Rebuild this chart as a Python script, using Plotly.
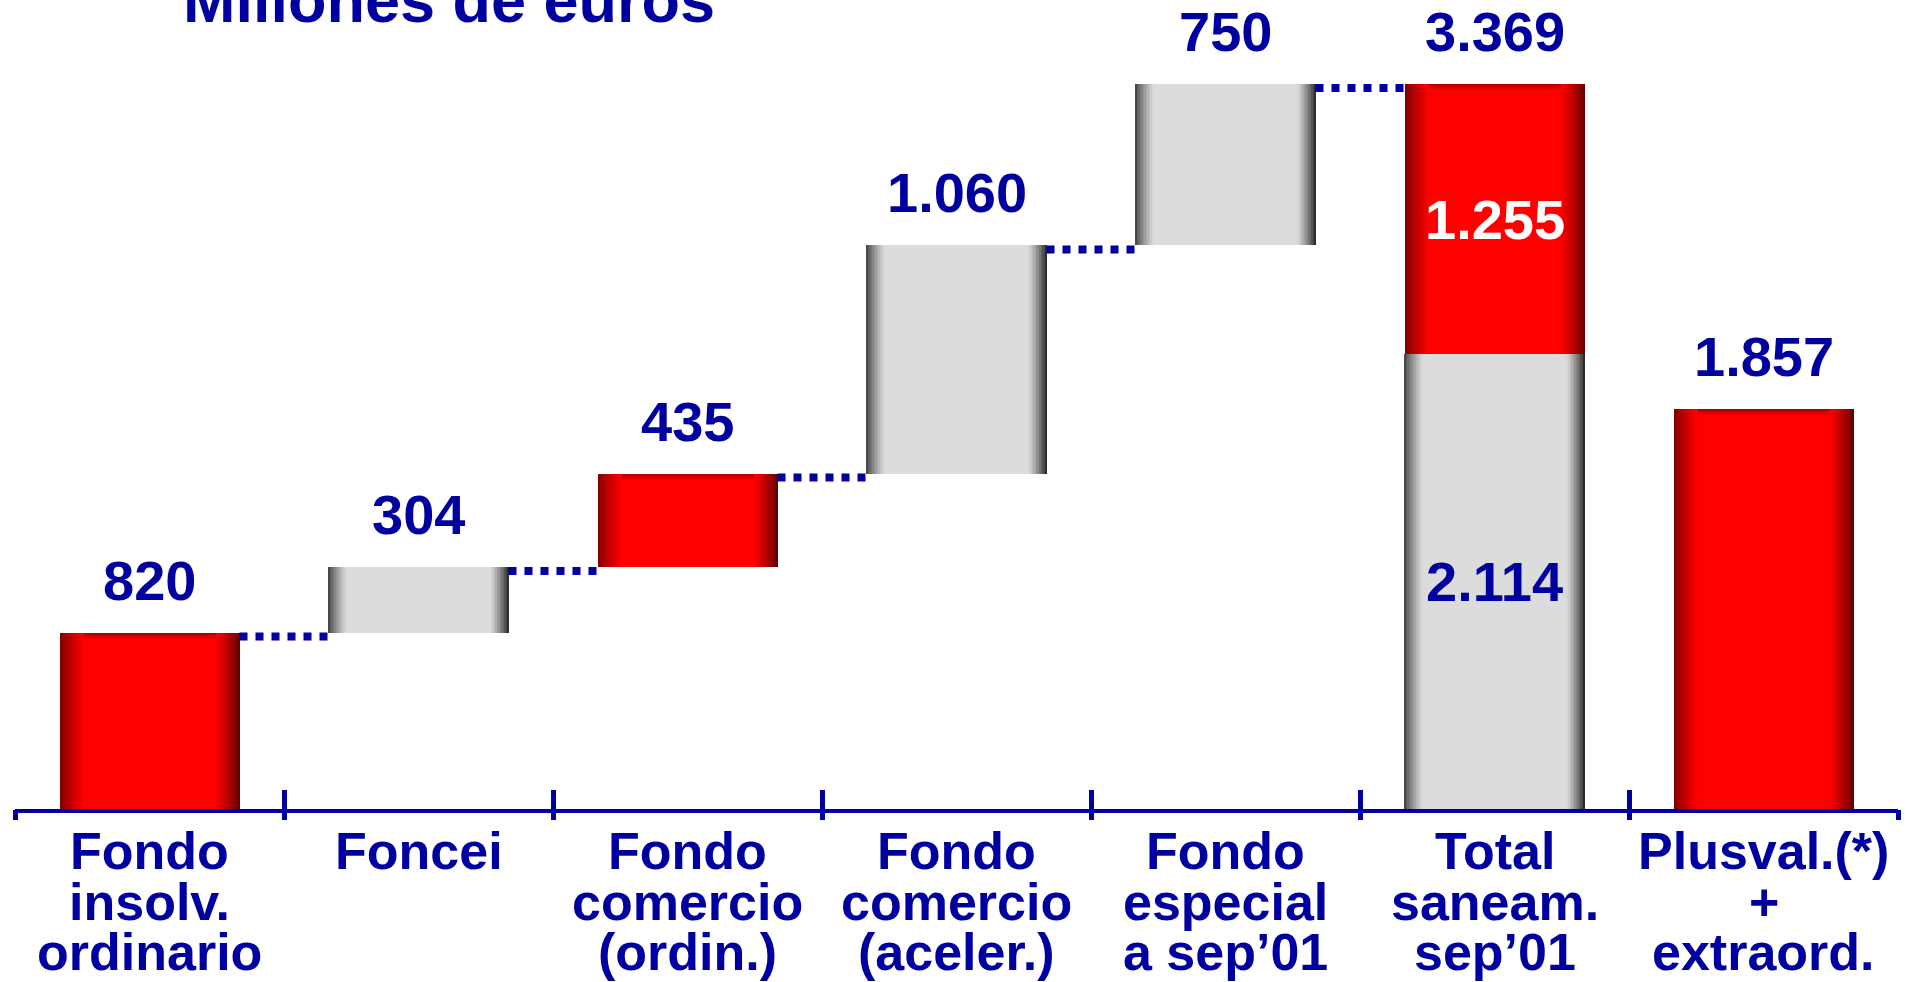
import plotly.graph_objects as go

# ---------------- data ----------------
category_lines = [
    ["Fondo", "insolv.", "ordinario"],
    ["Foncei"],
    ["Fondo", "comercio", "(ordin.)"],
    ["Fondo", "comercio", "(aceler.)"],
    ["Fondo", "especial", "a sep\u201901"],
    ["Total", "saneam.", "sep\u201901"],
    ["Plusval.(*)", "+", "extraord."],
]
step_values = [820, 304, 435, 1060, 750]
step_kinds = ["red", "gray", "red", "gray", "gray"]
plusval_value = 1857
title_text = "Millones de euros"

# ---------------- derived ----------------
total_red = sum(v for v, k in zip(step_values, step_kinds) if k == "red")
total_gray = sum(v for v, k in zip(step_values, step_kinds) if k == "gray")
total_value = total_red + total_gray

seg_x, seg_base, seg_h, seg_kind = [], [], [], []
cum = 0
step_tops = []
for i, (v, k) in enumerate(zip(step_values, step_kinds)):
    seg_x.append(i); seg_base.append(cum); seg_h.append(v); seg_kind.append(k)
    cum += v
    step_tops.append(cum)
i_total = len(step_values)
seg_x += [i_total, i_total]
seg_base += [0, total_gray]
seg_h += [total_gray, total_red]
seg_kind += ["gray", "red"]
i_plus = i_total + 1
seg_x.append(i_plus); seg_base.append(0); seg_h.append(plusval_value); seg_kind.append("red")

# ---------------- style ----------------
W_FIG, H_FIG = 1914, 982
M_L, M_R, M_T, M_B = 15, 16, 0, 173
NAVY = "#0000A0"
FONT = "Liberation Sans, Arial, Helvetica, sans-serif"
n_cat = len(category_lines)
plot_w = W_FIG - M_L - M_R
plot_h = H_FIG - M_T - M_B
px_per_unit_x = plot_w / n_cat
ymax = total_value * plot_h / (plot_h - (84 - M_T))
units_per_px_y = ymax / plot_h
BAR_W = 180 / px_per_unit_x

BODY = {"red": (255, 0, 0), "gray": (220, 220, 220)}
EDGE_L = {"red": (118, 0, 0), "gray": (60, 60, 60)}
EDGE_R = {"red": (88, 0, 0), "gray": (30, 30, 30)}
EDGE_PX = {"red": 24, "gray": 18}


def fmt(v):
    return f"{v:,}".replace(",", ".")


def mix(a, b, t):
    return "rgb(%d,%d,%d)" % tuple(round(a[c] + (b[c] - a[c]) * t) for c in range(3))


fig = go.Figure()

# main bars (solid body colour)
fig.add_trace(go.Bar(
    x=seg_x, y=seg_h, base=seg_base, width=BAR_W,
    marker=dict(color=[mix(BODY[k], BODY[k], 0) for k in seg_kind], line=dict(width=0)),
    showlegend=False, hoverinfo="skip",
))

# darker band along the top of red bars
TOP_STEPS = 3
for s in range(TOP_STEPS):
    t = (s + 0.5) / TOP_STEPS
    band = 2 * units_per_px_y
    fig.add_trace(go.Bar(
        x=seg_x,
        y=[band if k == "red" else 0 for k in seg_kind],
        base=[b + h - (s + 1) * band for b, h in zip(seg_base, seg_h)],
        width=BAR_W,
        marker=dict(color=[mix((160, 0, 0), BODY[k], t) for k in seg_kind], line=dict(width=0)),
        showlegend=False, hoverinfo="skip",
    ))

# edge shading strips (stepwise horizontal gradient)
N_STRIPS = 12
for side in ("left", "right"):
    for s in range(N_STRIPS):
        t = (s + 0.5) / N_STRIPS
        widths, cols, offs = [], [], []
        for k in seg_kind:
            sw = EDGE_PX[k] / N_STRIPS / px_per_unit_x
            widths.append(sw)
            if side == "left":
                offs.append(-BAR_W / 2 + s * sw)
                cols.append(mix(EDGE_L[k], BODY[k], t ** 0.8))
            else:
                offs.append(BAR_W / 2 - (s + 1) * sw)
                cols.append(mix(EDGE_R[k], BODY[k], t ** 0.8))
        fig.add_trace(go.Bar(
            x=seg_x, y=seg_h, base=seg_base, width=widths, offset=offs,
            marker=dict(color=cols, line=dict(width=0)),
            showlegend=False, hoverinfo="skip",
        ))

# dotted connectors
for i, top in enumerate(step_tops):
    y = top - 4 * units_per_px_y
    fig.add_trace(go.Scatter(
        x=[i + BAR_W / 2, i + 1 - BAR_W / 2], y=[y, y], mode="lines",
        line=dict(color=NAVY, width=8, dash="dot"),
        showlegend=False, hoverinfo="skip",
    ))

# dummy trace for second x axis (outside ticks)
fig.add_trace(go.Scatter(x=[None], y=[None], xaxis="x2", showlegend=False, hoverinfo="skip"))

VAL_F = 56
VAL_SHIFT = 19
annotations = []
val_specs = [(i, top, v) for i, (v, top) in enumerate(zip(step_values, step_tops))]
val_specs.append((i_total, total_value, total_value))
val_specs.append((i_plus, plusval_value, plusval_value))
for x, y, v in val_specs:
    annotations.append(dict(
        x=x, y=y, xref="x", yref="y", text=fmt(v), showarrow=False,
        xanchor="center", yanchor="bottom", yshift=VAL_SHIFT,
        font=dict(family=FONT, size=VAL_F, color=NAVY, weight=700)))
annotations.append(dict(x=i_total, y=total_gray + total_red / 2, xref="x", yref="y",
                        text=fmt(total_red), showarrow=False,
                        font=dict(family=FONT, size=VAL_F, color="white", weight=700)))
annotations.append(dict(x=i_total, y=total_gray / 2, xref="x", yref="y",
                        text=fmt(total_gray), showarrow=False,
                        font=dict(family=FONT, size=VAL_F, color=NAVY, weight=700)))

CAT_F = 52
for i, lines in enumerate(category_lines):
    for j, line in enumerate(lines):
        annotations.append(dict(
            x=i, xref="x", y=0, yref="paper", yanchor="top", xanchor="center",
            yshift=-11 - 50.5 * j, text=line, showarrow=False,
            font=dict(family=FONT, size=CAT_F, color=NAVY, weight=700)))

annotations.append(dict(
    x=(181 - M_L) / plot_w, xref="paper", xanchor="left", y=1, yref="paper",
    yanchor="top", yshift=37, text=title_text, showarrow=False,
    font=dict(family=FONT, size=63, color=NAVY, weight=700)))

bounds = [i - 0.5 for i in range(n_cat + 1)]
fig.update_layout(
    width=W_FIG, height=H_FIG,
    margin=dict(l=M_L, r=M_R, t=M_T, b=M_B, pad=0),
    paper_bgcolor="white", plot_bgcolor="white",
    barmode="overlay", bargap=0,
    showlegend=False,
    annotations=annotations,
    xaxis=dict(range=[-0.5, n_cat - 0.5], showgrid=False, zeroline=False,
               showline=True, linewidth=4, linecolor=NAVY,
               tickmode="array", tickvals=bounds, ticks="inside", ticklen=19,
               tickwidth=5, tickcolor=NAVY, showticklabels=False, fixedrange=True),
    xaxis2=dict(range=[-0.5, n_cat - 0.5], overlaying="x", anchor="y", side="bottom",
                showgrid=False, zeroline=False, showline=False,
                tickmode="array", tickvals=bounds, ticks="outside", ticklen=10,
                tickwidth=5, tickcolor=NAVY, showticklabels=False, fixedrange=True),
    yaxis=dict(range=[0, ymax], visible=False, fixedrange=True),
)

fig.write_html(
    "out.html",
    config={"displayModeBar": False},
    post_script="document.body.style.margin='0px';document.body.style.padding='0px';"
                "document.body.style.overflow='hidden';",
)
